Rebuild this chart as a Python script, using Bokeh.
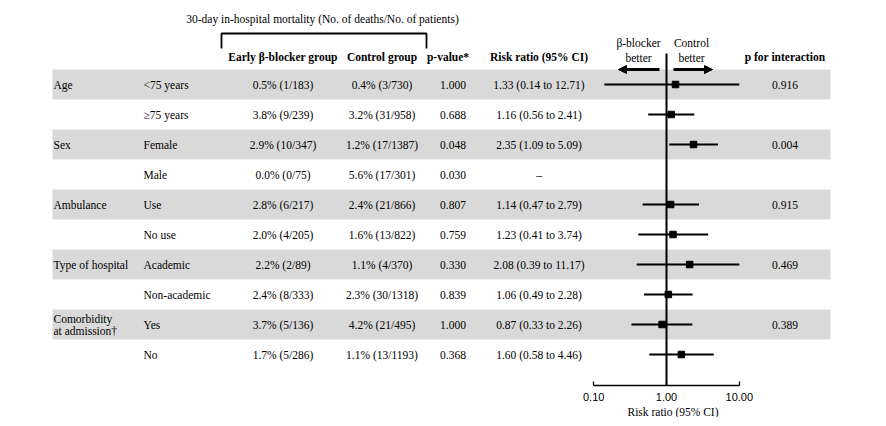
import math
import numpy as np
from bokeh.plotting import figure
from bokeh.models import (Range1d, LogScale, LogAxis, FixedTicker, PrintfTickFormatter,
                          ColumnDataSource, Arrow, NormalHead, Title)
from bokeh.core.properties import value
from bokeh.embed import file_html
from bokeh.resources import INLINE

# ---------------- data ----------------
group_labels = ["Age", "Sex", "Ambulance", "Type of hospital", "Comorbidity\nat admission\u2020"]
subgroups = ["<75 years", "\u226575 years", "Female", "Male", "Use", "No use",
             "Academic", "Non-academic", "Yes", "No"]
early = ["0.5% (1/183)", "3.8% (9/239)", "2.9% (10/347)", "0.0% (0/75)", "2.8% (6/217)",
         "2.0% (4/205)", "2.2% (2/89)", "2.4% (8/333)", "3.7% (5/136)", "1.7% (5/286)"]
control = ["0.4% (3/730)", "3.2% (31/958)", "1.2% (17/1387)", "5.6% (17/301)", "2.4% (21/866)",
           "1.6% (13/822)", "1.1% (4/370)", "2.3% (30/1318)", "4.2% (21/495)", "1.1% (13/1193)"]
pvals = ["1.000", "0.688", "0.048", "0.030", "0.807", "0.759", "0.330", "0.839", "1.000", "0.368"]
rr = [1.33, 1.16, 2.35, float("nan"), 1.14, 1.23, 2.08, 1.06, 0.87, 1.60]
rr_lo = [0.14, 0.56, 1.09, float("nan"), 0.47, 0.41, 0.39, 0.49, 0.33, 0.58]
rr_hi = [12.71, 2.41, 5.09, float("nan"), 2.79, 3.74, 11.17, 2.28, 2.26, 4.46]
p_interaction = ["0.916", "0.004", "0.915", "0.469", "0.389"]
axis_ticks = [0.1, 1.0, 10.0]

# ---------------- layout constants (frame pixels) ----------------
FW, FH = 862, 377
ROW0_PX, ROW_PX = 76, 30
X_GROUP, X_SUB, X_EARLY, X_CTRL, X_P, X_P_HDR, X_RR, X_PINT = 45, 135, 274.5, 373.5, 444.5, 439.5, 530.5, 776.5
BAND_L, BAND_R = 44, 822
ONE_PX, DECADE_PX = 658, 72.8
FONT = value("Liberation Serif")
FS = "11.5px"

n = len(subgroups)
rows = list(range(n))
y_bottom = (FH - ROW0_PX) / ROW_PX

p = figure(frame_width=FW, frame_height=FH,
           x_range=Range1d(0, FW),
           y_range=Range1d(y_bottom, -ROW0_PX / ROW_PX),
           x_axis_type=None, y_axis_type=None,
           toolbar_location=None, output_backend="svg", min_border=0,
           min_border_left=8, min_border_top=8)
p.outline_line_color = None
p.xgrid.visible = False
p.ygrid.visible = False

lo_v = 10 ** (-ONE_PX / DECADE_PX)
hi_v = 10 ** ((FW - ONE_PX) / DECADE_PX)
p.extra_x_ranges = {"rr": Range1d(lo_v, hi_v)}
p.extra_x_scales = {"rr": LogScale()}

# bands
band_rows = rows[::2]
p.hbar(y=band_rows, left=BAND_L, right=BAND_R, height=1.0, fill_color="#d9d9d9", line_color=None)

def txt(x, y, t, align="center", style="normal", size=FS, font=FONT):
    src = ColumnDataSource(dict(x=x, y=y, t=t))
    p.text(x="x", y="y", text="t", source=src, text_font=font, text_font_size=size,
           text_align=align, text_baseline="middle", text_color="black", text_font_style=style)

# title and bracket
txt([314], [-2.2], ["30-day in-hospital mortality (No. of deaths/No. of patients)"])
p.line(x=[213, 213, 418, 418], y=[-1.2, -1.7, -1.7, -1.2], line_width=1.8, line_color="black")

# headers
txt([X_EARLY, X_CTRL, X_P_HDR, X_RR, X_PINT], [-0.933] * 5,
    ["Early \u03b2-blocker group", "Control group", "p-value*", "Risk ratio (95% CI)", "p for interaction"],
    style="bold")
txt([630, 630, 683, 683], [-1.367, -0.9, -1.367, -0.9], ["\u03b2-blocker", "better", "Control", "better"])

# arrows
for xs, xe in [(651, 610), (665, 704)]:
    p.add_layout(Arrow(x_start=xs, y_start=-0.5, x_end=xe, y_end=-0.5, line_width=3, line_color="black",
                       end=NormalHead(size=8, fill_color="black", line_color="black")))

# group labels
gx, gy, gt = [], [], []
for i, g in enumerate(group_labels):
    parts = g.split("\n")
    r = 2 * i
    if len(parts) == 1:
        gx.append(X_GROUP); gy.append(r); gt.append(parts[0])
    else:
        gx += [X_GROUP, X_GROUP]; gy += [r - 0.2, r + 0.233]; gt += parts
txt(gx, gy, gt, align="left")

txt([X_SUB] * n, rows, subgroups, align="left")
txt([X_EARLY] * n, rows, early)
txt([X_CTRL] * n, rows, control)
txt([X_P] * n, rows, pvals)
rr_txt = ["\u2013" if math.isnan(r) else f"{r:.2f} ({l:.2f} to {h:.2f})" for r, l, h in zip(rr, rr_lo, rr_hi)]
txt([X_RR] * n, rows, rr_txt)
txt([X_PINT] * len(p_interaction), band_rows, p_interaction)

# forest plot
valid = [i for i in rows if not math.isnan(rr[i])]
x_max = axis_ticks[-1]
seg = ColumnDataSource(dict(x0=[rr_lo[i] for i in valid], x1=[min(rr_hi[i], x_max) for i in valid],
                            y=[rows[i] for i in valid], m=[rr[i] for i in valid]))
p.segment(x0="x0", x1="x1", y0="y", y1="y", source=seg, x_range_name="rr", line_width=1.8, line_color="black")
p.scatter(x="m", y="y", source=seg, x_range_name="rr", marker="square", size=6.5,
          fill_color="black", line_color="black")
p.segment(x0=[1.0], x1=[1.0], y0=[-1.033], y1=[y_bottom], x_range_name="rr",
          line_width=2, line_color="black")

ax = LogAxis(x_range_name="rr", ticker=FixedTicker(ticks=axis_ticks, minor_ticks=[]),
             formatter=PrintfTickFormatter(format="%.2f"), bounds=(axis_ticks[0], axis_ticks[-1]))
ax.major_tick_in = 4
ax.major_tick_out = 0
ax.axis_line_width = 1.3
ax.major_tick_line_width = 1.3
ax.major_label_text_font = "Liberation Sans"
ax.major_label_text_font_size = "11px"
ax.major_label_text_color = "black"
ax.major_label_standoff = 7
p.add_layout(ax, "below")

p.add_layout(Title(text="Risk ratio (95% CI)", align="left", offset=619, standoff=0,
                   text_font="Liberation Serif", text_font_size=FS, text_font_style="normal",
                   text_color="black"), "below")

open("out.html", "w").write(file_html(p, INLINE))
